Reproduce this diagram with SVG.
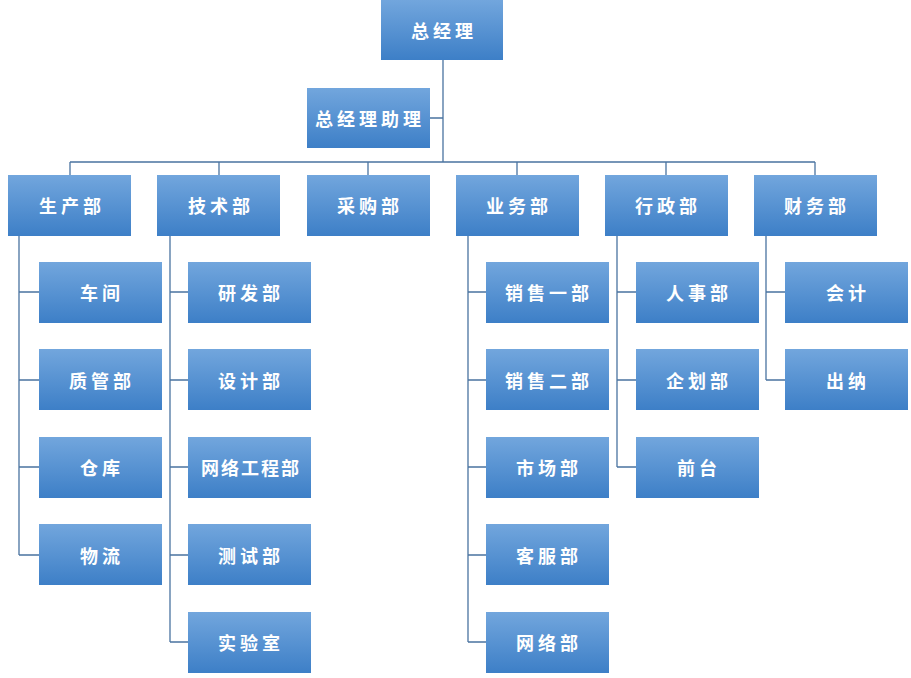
<svg xmlns="http://www.w3.org/2000/svg" width="911" height="678" viewBox="0 0 911 678">
<defs>
<linearGradient id="g" x1="0" y1="0" x2="0" y2="1"><stop offset="0" stop-color="#72a6dd"/><stop offset="1" stop-color="#3d7fc7"/></linearGradient>
<style>
.b{fill:url(#g)}
.t{fill:#fff;font-family:"Noto Sans CJK SC",sans-serif;font-size:18px;font-weight:bold;letter-spacing:4px;text-anchor:middle;dominant-baseline:central}
.c{stroke:#4a73a0;stroke-width:1.3;fill:none}
</style>
</defs>
<g id="connectors" class="c">
<path d="M443 60V162M430 118H443M70 162H815M70 162V175M219 162V175M368 162V175M517 162V175M666 162V175M815 162V175"/>
<path d="M19 236V555M19 292H39M19 380H39M19 467H39M19 555H39"/>
<path d="M170 236V642M170 292H188M170 380H188M170 467H188M170 555H188M170 642H188"/>
<path d="M468 236V642M468 292H486M468 380H486M468 467H486M468 555H486M468 642H486"/>
<path d="M617 236V467M617 292H636M617 380H636M617 467H636"/>
<path d="M766 236V380M766 292H785M766 380H785"/>
</g>
<g id="n0"><rect class="b" x="381" y="0" width="122" height="60"/><text class="t" x="444" y="30">总经理</text></g>
<g id="n1"><rect class="b" x="307" y="88" width="123" height="60"/><text class="t" x="370" y="118">总经理助理</text></g>
<g id="p1"><rect class="b" x="8" y="175" width="123" height="61"/><text class="t" x="72" y="205">生产部</text></g>
<g id="p2"><rect class="b" x="157" y="175" width="123" height="61"/><text class="t" x="221" y="205">技术部</text></g>
<g id="p3"><rect class="b" x="307" y="175" width="123" height="61"/><text class="t" x="370" y="205">采购部</text></g>
<g id="p4"><rect class="b" x="456" y="175" width="123" height="61"/><text class="t" x="519" y="205">业务部</text></g>
<g id="p5"><rect class="b" x="605" y="175" width="123" height="61"/><text class="t" x="668" y="205">行政部</text></g>
<g id="p6"><rect class="b" x="754" y="175" width="123" height="61"/><text class="t" x="817" y="205">财务部</text></g>
<g id="c11"><rect class="b" x="39" y="262" width="123" height="61"/><text class="t" x="102" y="292">车间</text></g>
<g id="c12"><rect class="b" x="39" y="349" width="123" height="61"/><text class="t" x="102" y="380">质管部</text></g>
<g id="c13"><rect class="b" x="39" y="437" width="123" height="61"/><text class="t" x="102" y="467">仓库</text></g>
<g id="c14"><rect class="b" x="39" y="524" width="123" height="61"/><text class="t" x="102" y="555">物流</text></g>
<g id="c21"><rect class="b" x="188" y="262" width="123" height="61"/><text class="t" x="251" y="292">研发部</text></g>
<g id="c22"><rect class="b" x="188" y="349" width="123" height="61"/><text class="t" x="251" y="380">设计部</text></g>
<g id="c23"><rect class="b" x="188" y="437" width="123" height="61"/><text class="t" x="251" y="467" style="letter-spacing:2px">网络工程部</text></g>
<g id="c24"><rect class="b" x="188" y="524" width="123" height="61"/><text class="t" x="251" y="555">测试部</text></g>
<g id="c25"><rect class="b" x="188" y="612" width="123" height="61"/><text class="t" x="251" y="642">实验室</text></g>
<g id="c41"><rect class="b" x="486" y="262" width="123" height="61"/><text class="t" x="549" y="292">销售一部</text></g>
<g id="c42"><rect class="b" x="486" y="349" width="123" height="61"/><text class="t" x="549" y="380">销售二部</text></g>
<g id="c43"><rect class="b" x="486" y="437" width="123" height="61"/><text class="t" x="549" y="467">市场部</text></g>
<g id="c44"><rect class="b" x="486" y="524" width="123" height="61"/><text class="t" x="549" y="555">客服部</text></g>
<g id="c45"><rect class="b" x="486" y="612" width="123" height="61"/><text class="t" x="549" y="642">网络部</text></g>
<g id="c51"><rect class="b" x="636" y="262" width="123" height="61"/><text class="t" x="699" y="292">人事部</text></g>
<g id="c52"><rect class="b" x="636" y="349" width="123" height="61"/><text class="t" x="699" y="380">企划部</text></g>
<g id="c53"><rect class="b" x="636" y="437" width="123" height="61"/><text class="t" x="699" y="467">前台</text></g>
<g id="c61"><rect class="b" x="785" y="262" width="123" height="61"/><text class="t" x="848" y="292">会计</text></g>
<g id="c62"><rect class="b" x="785" y="349" width="123" height="61"/><text class="t" x="848" y="380">出纳</text></g>
</svg>
